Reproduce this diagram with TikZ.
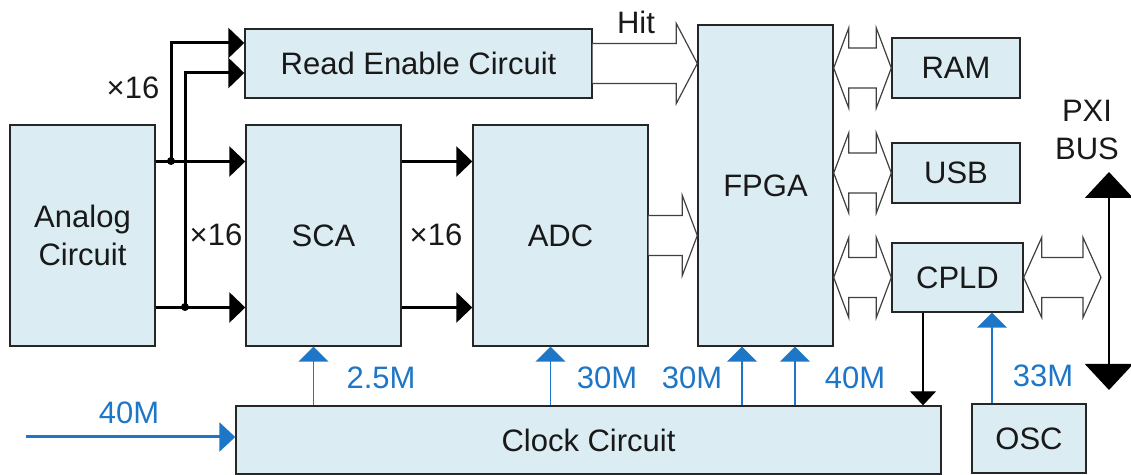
\documentclass[tikz,border=0pt]{standalone}
\usepackage{fontspec}
\setmainfont{Liberation Sans}
\usetikzlibrary{arrows.meta,calc}

\definecolor{celeste}{RGB}{219,237,243}
\definecolor{azulreloj}{RGB}{30,118,198}

% Bus hueco: #1 salida, #2 punta, #3 largo de la punta
\newcommand{\flechahueca}[3]{%
  \draw[hueca] ($(#1)+(0,-20)$) -- ($(#2)+(-#3,-20)$) -- ($(#2)+(-#3,-40)$)
    -- (#2) -- ($(#2)+(-#3,40)$) -- ($(#2)+(-#3,20)$) -- ($(#1)+(0,20)$);}
% Bus hueco de dos puntas: #1 punta izquierda, #2 punta derecha, #3 largo
\newcommand{\flechadoble}[3]{%
  \draw[hueca] (#1) -- ($(#1)+(#3,-40)$) -- ($(#1)+(#3,-20)$) -- ($(#2)+(-#3,-20)$)
    -- ($(#2)+(-#3,-40)$) -- (#2) -- ($(#2)+(-#3,40)$) -- ($(#2)+(-#3,20)$)
    -- ($(#1)+(#3,20)$) -- ($(#1)+(#3,40)$) -- cycle;}

\begin{document}
\begin{tikzpicture}[x=0.5pt, y=-0.5pt, font=\fontsize{15.5}{19}\selectfont,
    caja/.style={draw=black!85, line width=0.7pt, fill=celeste, text=black!90, align=center, inner sep=0pt},
    negra/.style={line width=1.5pt, -{Triangle[length=8pt,width=15pt]}},
    fina/.style={line width=0.6pt, -{Triangle[length=7pt,width=13pt]}},
    azul/.style={draw=azulreloj, line width=0.9pt, -{Triangle[length=7.5pt,width=15pt]}},
    entrada/.style={draw=azulreloj, line width=1.5pt, -{Triangle[length=8pt,width=14.5pt]}},
    bus/.style={line width=1pt, {Triangle[length=13pt,width=24pt]}-{Triangle[length=13pt,width=24pt]}},
    hueca/.style={draw=black!75, line width=0.6pt, fill=white},
    texto/.style={inner sep=0pt, text=black!90},
    frec/.style={inner sep=0pt, text=azulreloj}]

  \useasboundingbox (0,0) rectangle (1131,475);

  % Bloques
  \node[caja, minimum width=173.5pt, minimum height=34.5pt] (rec) at (418.5,63.5) {Read Enable Circuit};
  \node[caja, minimum width=72.5pt, minimum height=110.5pt] (ana) at (82.5,235.5) {Analog\\Circuit};
  \node[caja, minimum width=77.5pt, minimum height=110.5pt] (sca) at (323.5,235.5) {SCA};
  \node[caja, minimum width=87.5pt, minimum height=110.5pt] (adc) at (560.5,235.5) {ADC};
  \node[caja, minimum width=67.5pt, minimum height=160.5pt] (fpga) at (765.5,185.5) {FPGA};
  \node[caja, minimum width=64pt, minimum height=30pt] (ram) at (956,68) {RAM};
  \node[caja, minimum width=64pt, minimum height=30pt] (usb) at (956,173) {USB};
  \node[caja, minimum width=65.5pt, minimum height=34.5pt] (cpld) at (957.5,277.5) {CPLD};
  \node[caja, minimum width=352.5pt, minimum height=34pt] (clk) at (588.5,440) {Clock Circuit};
  \node[caja, minimum width=57pt, minimum height=34.5pt] (osc) at (1029,438.5) {OSC};

  % Canales x16
  \coordinate (j1) at (171,161);
  \coordinate (j2) at (185,307);
  \draw[negra] ([yshift=37pt]ana.east) -- ([yshift=37pt]sca.west);
  \draw[negra] ([yshift=-36pt]ana.east) -- ([yshift=-36pt]sca.west);
  \draw[negra] ([yshift=37pt]sca.east) -- ([yshift=37pt]adc.west);
  \draw[negra] ([yshift=-36pt]sca.east) -- ([yshift=-36pt]adc.west);
  \draw[negra] (j1) |- ([yshift=10.25pt]rec.west);
  \draw[negra] (j2) |- ([yshift=-4.75pt]rec.west);
  \fill (j1) circle[radius=2pt];
  \fill (j2) circle[radius=2pt];
  \node[texto] (x16a) at (133,88) {×16};
  \node[texto] (x16b) at (216,235) {×16};
  \node[texto] (x16c) at (436,235) {×16};

  % Buses huecos
  \coordinate (hitP) at (fpga.west |- rec.east);
  \coordinate (adcP) at (fpga.west |- adc.east);
  \flechahueca{rec.east}{hitP}{21}
  \flechahueca{adc.east}{adcP}{15}
  \node[texto] (hit) at (636,22) {Hit};
  \coordinate (ramI) at (fpga.east |- ram.west);
  \coordinate (usbI) at (fpga.east |- usb.west);
  \coordinate (cpldI) at (fpga.east |- cpld.west);
  \flechadoble{ramI}{ram.west}{15}
  \flechadoble{usbI}{usb.west}{15}
  \flechadoble{cpldI}{cpld.west}{15}

  % Bus PXI
  \coordinate (pxa) at (1109,172);
  \coordinate (pxb) at (1109,390);
  \coordinate (busE) at ($(pxa |- cpld.east)+(-8,0)$);
  \flechadoble{cpld.east}{busE}{18}
  \draw[bus] (pxa) -- (pxb);
  \node[texto, align=center] (pxi) at (1087,130) {PXI\\BUS};

  % Relojes
  \draw[azul] ([xshift=-5pt]sca.south |- clk.north) -- ([xshift=-5pt]sca.south);
  \draw[azul] ([xshift=-5pt]adc.south |- clk.north) -- ([xshift=-5pt]adc.south);
  \draw[azul] ([xshift=-11.75pt]fpga.south |- clk.north) -- ([xshift=-11.75pt]fpga.south);
  \draw[azul] ([xshift=14.75pt]fpga.south |- clk.north) -- ([xshift=14.75pt]fpga.south);
  \draw[azul] ([xshift=17.25pt]cpld.south |- osc.north) -- ([xshift=17.25pt]cpld.south);
  \draw[fina] ([xshift=-17.25pt]cpld.south) -- ([xshift=-17.25pt]cpld.south |- clk.north);
  \coordinate (ent) at (26,437);
  \draw[entrada] (ent) -- (ent -| clk.west);
  \node[frec] (f25) at (381,378) {2.5M};
  \node[frec] (f30a) at (607,378) {30M};
  \node[frec] (f30b) at (692,378) {30M};
  \node[frec] (f40a) at (855,378) {40M};
  \node[frec] (f33) at (1043,376) {33M};
  \node[frec] (f40b) at (129,413) {40M};
\end{tikzpicture}
\end{document}
